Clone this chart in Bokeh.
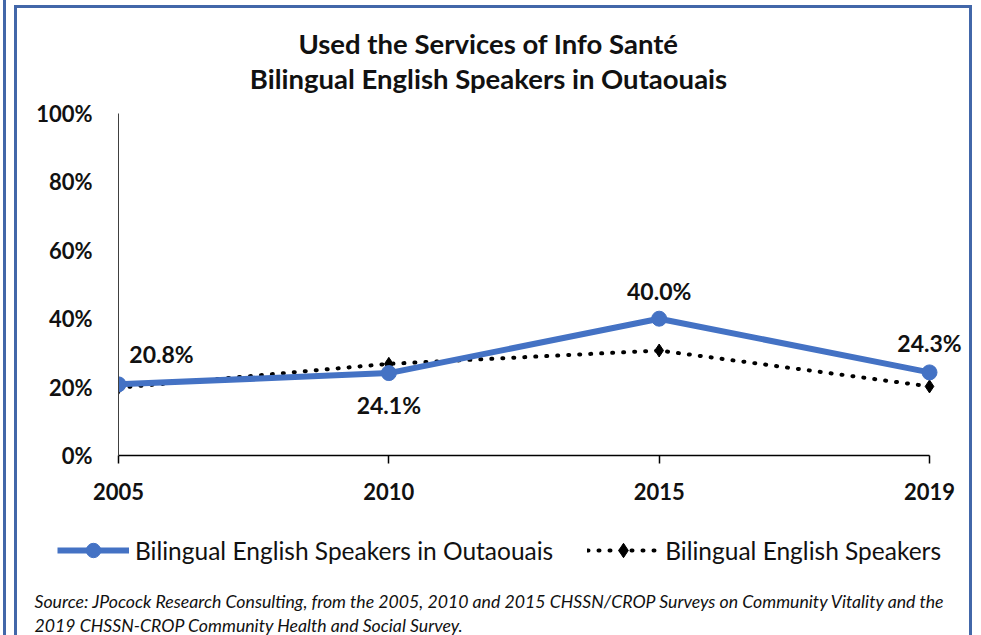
from bokeh.plotting import figure
from bokeh.layouts import column
from bokeh.models import (Range1d, FixedTicker, Label, LabelSet, ColumnDataSource,
                          Legend, LegendItem)
from bokeh.core.properties import value
from bokeh.embed import file_html
from bokeh.resources import INLINE

# ---- data ----
years = ["2005", "2010", "2015", "2019"]
outaouais = [20.8, 24.1, 40.0, 24.3]
bilingual = [19.8, 26.8, 30.7, 20.2]
y_ticks = [0, 20, 40, 60, 80, 100]
title_lines = ["Used the Services of Info Santé", "Bilingual English Speakers in Outaouais"]
series_names = ["Bilingual English Speakers in Outaouais", "Bilingual English Speakers"]
source_lines = [
    "Source: JPocock Research Consulting, from the 2005, 2010  and 2015  CHSSN/CROP Surveys on Community Vitality and the",
    "2019  CHSSN-CROP Community Health and Social Survey.",
]

FONT = "Lato"
BLUE = "#4472C4"
FRAME_BLUE = "#4267A9"
TXT = "#111111"
BLUE_STYLE = dict(line_color=BLUE, line_width=6, line_join="round")
BLUE_MARK = dict(marker="circle", fill_color=BLUE, line_color=BLUE)
BLACK_STYLE = dict(line_color="black", line_width=4, line_dash="1 10", line_cap="round")
BLACK_MARK = dict(marker="diamond", fill_color="black", line_color="black")

xs = list(range(len(years)))

# layout helpers: reference-pixel -> data coordinates (plot area 118..929 x 113..455)
PX_PER_X = 811 / (len(years) - 1)
PX_PER_Y = 342 / 100

def dx_of(px):
    return (px - 118) / PX_PER_X

def dy_of(py):
    return (455 - py) / PX_PER_Y

# ---------------- main chart ----------------
p = figure(width=958, height=508, output_backend="svg", toolbar_location=None,
           x_range=Range1d(0, dx_of(975)), y_range=Range1d(0, dy_of(8)),
           min_border_left=101, min_border_right=0, min_border_top=0, min_border_bottom=61)
p.frame_align = False
p.styles = {"margin-left": "8px", "margin-top": "5px",
            "border": f"3px solid {FRAME_BLUE}", "border-bottom": "none"}
p.outline_line_color = None
p.xgrid.visible = False
p.ygrid.visible = False

p.xaxis.ticker = FixedTicker(ticks=xs)
p.xaxis.bounds = (xs[0], xs[-1])
p.xaxis.major_label_overrides = {i: y for i, y in enumerate(years)}
p.yaxis.ticker = FixedTicker(ticks=y_ticks)
p.yaxis.bounds = (y_ticks[0], y_ticks[-1])
p.yaxis.major_label_overrides = {v: f"{v}%" for v in y_ticks}
for ax in (p.xaxis[0], p.yaxis[0]):
    ax.major_label_text_font = FONT
    ax.major_label_text_font_style = "bold"
    ax.major_label_text_font_size = "22px"
    ax.major_label_text_color = TXT
    ax.minor_tick_line_color = None
p.xaxis.axis_line_color = "#000000"
p.xaxis.axis_line_width = 1.5
p.xaxis.major_tick_line_color = "#000000"
p.xaxis.major_tick_line_width = 1.5
p.xaxis.major_tick_in = 0
p.xaxis.major_tick_out = 8
p.xaxis.major_label_standoff = 19
p.yaxis.axis_line_color = "#404040"
p.yaxis.axis_line_width = 1
p.yaxis.major_tick_line_color = None
p.yaxis.major_tick_in = 0
p.yaxis.major_tick_out = 0
p.yaxis.major_label_standoff = 26

p.line(xs, bilingual, **BLACK_STYLE)
p.scatter(xs, bilingual, size=13, **BLACK_MARK)
p.line(xs, outaouais, **BLUE_STYLE)
p.scatter(xs, outaouais, size=15, **BLUE_MARK)

lab_src = ColumnDataSource(dict(
    x=xs, y=outaouais, text=[f"{v:.1f}%" for v in outaouais],
    dx=[43, 0, 0, 0], dy=[30, -32, 28, 29]))
p.add_layout(LabelSet(x="x", y="y", text="text", source=lab_src,
                      x_offset="dx", y_offset="dy",
                      text_align="center", text_baseline="middle",
                      text_font=value(FONT), text_font_style="bold",
                      text_font_size="23px", text_color=TXT))

for line, py in zip(title_lines, [43, 78]):
    p.add_layout(Label(x=dx_of(488), y=dy_of(py), text=line,
                       text_align="center", text_baseline="middle",
                       text_font=FONT, text_font_style="bold",
                       text_font_size="27.5px", text_color=TXT))

# ---------------- legend + source strip (coords = reference pixels) ----------------
p2 = figure(width=958, height=122, output_backend="svg", toolbar_location=None,
            x_range=Range1d(17, 975), y_range=Range1d(635, 513),
            x_axis_location=None, y_axis_location=None,
            min_border_left=0, min_border_right=0, min_border_top=0, min_border_bottom=0)
p2.frame_align = False
p2.styles = {"margin-left": "8px", "border-left": f"3px solid {FRAME_BLUE}",
             "border-right": f"3px solid {FRAME_BLUE}"}
p2.outline_line_color = None
p2.grid.visible = False

# legend keys: the two series styled as in the chart (their data lies outside this strip's view)
k_blue_l = p2.line(xs, outaouais, **BLUE_STYLE)
k_blue_m = p2.scatter(xs, outaouais, **BLUE_MARK)
k_black_l = p2.line(xs, bilingual, **BLACK_STYLE)
k_black_m = p2.scatter(xs, bilingual, **BLACK_MARK)
legend = Legend(items=[LegendItem(label=series_names[0], renderers=[k_blue_l, k_blue_m]),
                       LegendItem(label=series_names[1], renderers=[k_black_l, k_black_m])],
                orientation="horizontal", location=(40, 67),
                glyph_width=72, glyph_height=36, label_standoff=6, spacing=34,
                padding=0, margin=0, border_line_color=None, background_fill_alpha=0,
                label_text_font=FONT, label_text_font_size="24.5px",
                label_text_color=TXT)
p2.add_layout(legend)

for line, py in zip(source_lines, [601, 625]):
    p2.add_layout(Label(x=34, y=py, text=line,
                        text_align="left", text_baseline="middle",
                        text_font=FONT, text_font_style="italic",
                        text_font_size="17.7px", text_color=TXT))

layout = column(p, p2, spacing=0)
layout.styles = {"margin-left": "3px", "border-left": f"3px solid {FRAME_BLUE}"}
open("out.html", "w").write(file_html(layout, INLINE))
